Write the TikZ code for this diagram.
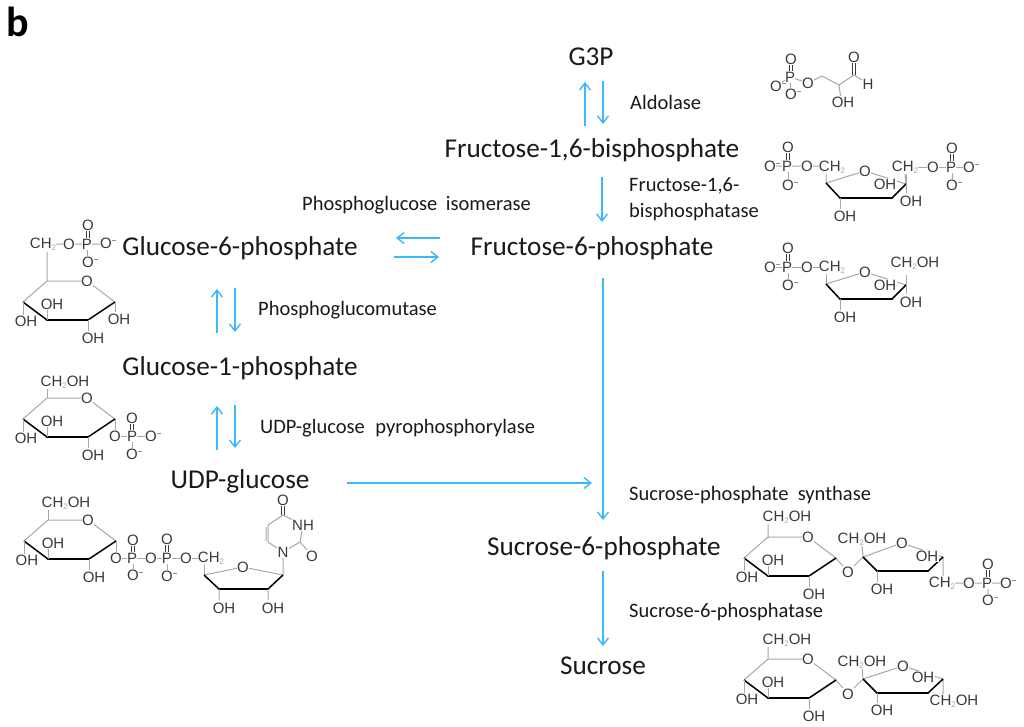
\documentclass[tikz,border=0pt]{standalone}
\usepackage{fontspec}
\setmainfont{Carlito}
\newfontfamily\chemfont{Liberation Sans}
\usetikzlibrary{calc,arrows.meta}
\definecolor{arrowblue}{HTML}{3DB8FA}
\definecolor{bondgray}{HTML}{A8A8A8}
\definecolor{inkdark}{HTML}{1A1A1A}
\definecolor{atomink}{HTML}{3A3A3A}
\tikzset{
  metab/.style={font=\fontsize{27.2}{27}\selectfont,text=inkdark,inner sep=0pt,text height=19.5pt,text depth=2.5pt},
  enzyme/.style={font=\fontsize{20.5}{26}\selectfont,text=inkdark,inner sep=0pt,align=left},
  flow/.style={draw=arrowblue,line width=1.4pt,-{Straight Barb[length=7pt,width=11pt,line width=1.4pt]}},
  bond/.style={draw=bondgray,line width=1pt},
  dbond/.style={draw=atomink,line width=1pt},
  wedge/.style={draw=black,line width=2.6pt,line cap=round},
  wedgeside/.style={draw=black,line width=1.5pt},
  atom/.style={font=\chemfont\fontsize{15}{15}\selectfont,text=atomink,inner sep=0.4pt,fill=white},
}
\newcommand{\subtwo}{\raisebox{-2pt}{\textcolor{bondgray}{\fontsize{8}{8}\selectfont 2}}}
\newcommand{\minussign}{\rlap{\raisebox{5pt}{\fontsize{8}{8}\selectfont\textminus}}}
\newcommand{\chemat}[3]{\node[atom] at (#1,#2) {#3};}
% pyranose ring: origin = C5
\newcommand{\pyranose}[2]{%
 \begin{scope}[shift={(#1,#2)}]
  \draw[bond] (0,0) -- (40,0) (40,0) -- (68,21) (0,0) -- (-24,21);
  \draw[wedgeside] (-24,21) -- (0,39);
  \draw[wedge] (0,39) -- (41,39);
  \draw[wedgeside] (41,39) -- (68,21);
  \draw[bond] (-24,21) -- (-24,35) (0,39) -- (0,28) (41,39) -- (41,50);
  \chemat{40}{0}{O}
  \chemat{5}{23}{OH}
  \chemat{-21}{40}{OH}
  \chemat{46}{57}{OH}
 \end{scope}}
% furanose ring: origin = left carbon
\newcommand{\furanose}[2]{%
 \begin{scope}[shift={(#1,#2)}]
  \draw[bond] (0,0) -- (39,-12) (39,-12) -- (80,1);
  \draw[wedgeside] (0,0) -- (14,15);
  \draw[wedge] (14,15) -- (66,15);
  \draw[wedgeside] (66,15) -- (80,1);
  \draw[bond] (14,15) -- (14,26) (80,1) -- (80,10) (80,1) -- (80,-9);
  \chemat{39}{-12}{O}
  \chemat{59}{1}{OH}
 \end{scope}}
\begin{document}
\begin{tikzpicture}[x=1pt,y=-1pt]
\useasboundingbox (0,0) rectangle (1024,726);
\fill[white] (0,0) rectangle (1024,726);
\node[font=\bfseries\fontsize{42}{42}\selectfont,inner sep=0pt,text=black] (panel) at (18,22) {b};

% metabolites
\node[metab] (g3p) at (591,57) {G3P};
\node[metab] (fbp) at (592,149) {Fructose-1,6-bisphosphate};
\node[metab] (f6p) at (592,247) {Fructose-6-phosphate};
\node[metab] (g6p) at (240,247) {Glucose-6-phosphate};
\node[metab] (g1p) at (240,367) {Glucose-1-phosphate};
\node[metab] (udp) at (240,480) {UDP-glucose};
\node[metab] (s6p) at (604,547) {Sucrose-6-phosphate};
\node[metab] (suc) at (603,666) {Sucrose};

% enzymes
\node[enzyme,anchor=west] (e1) at (630,102) {Aldolase};
\node[enzyme,anchor=west] (e2) at (629,199.5) {Fructose-1,6-\\bisphosphatase};
\node[enzyme,anchor=west] (e3) at (302,205.5) {Phosphoglucose\hspace{4pt} isomerase};
\node[enzyme,anchor=west] (e4) at (258,310) {Phosphoglucomutase};
\node[enzyme,anchor=west] (e5) at (260,428) {UDP-glucose\hspace{6pt} pyrophosphorylase};
\node[enzyme,anchor=west] (e6) at (629,495) {Sucrose-phosphate\ \ synthase};
\node[enzyme,anchor=west] (e7) at (629,612) {Sucrose-6-phosphatase};

% arrows
\draw[flow] ([shift={(-6,69)}]g3p.center) -- ([shift={(-6,25)}]g3p.center);
\draw[flow] ([shift={(12,24)}]g3p.center) -- ([shift={(12,67)}]g3p.center);
\draw[flow] ([shift={(10,28)}]fbp.center) -- ([shift={(10,73)}]fbp.center);
\draw[flow] ([shift={(-152,-9)}]f6p.center) -- ([shift={(-196,-9)}]f6p.center);
\draw[flow] ([shift={(154,10)}]g6p.center) -- ([shift={(199,10)}]g6p.center);
\draw[flow] ([shift={(-23,86)}]g6p.center) -- ([shift={(-23,42)}]g6p.center);
\draw[flow] ([shift={(-5,41)}]g6p.center) -- ([shift={(-5,85)}]g6p.center);
\draw[flow] ([shift={(-23,83)}]g1p.center) -- ([shift={(-23,39)}]g1p.center);
\draw[flow] ([shift={(-5,38)}]g1p.center) -- ([shift={(-5,81)}]g1p.center);
\draw[flow] ([shift={(107,3)}]udp.center) -- ([shift={(352,3)}]udp.center);
\draw[flow] ([shift={(11,31)}]f6p.center) -- ([shift={(11,273)}]f6p.center);
\draw[flow] ([shift={(-1,24)}]s6p.center) -- ([shift={(-1,99)}]s6p.center);

% G3P
\draw[bond] (790,77) -- (776,86) (790,77) -- (791,94) (790,77) -- (808,83) (808,83) -- (822,76) (822,76) -- (839,85) (839,85) -- (854,75) (854,75) -- (868,84) (839,85) -- (841,100);
\draw[dbond] (789,77) -- (789,59) (792,77) -- (792,59) (852.5,75) -- (852.5,57) (855.5,75) -- (855.5,57);
\chemat{791}{59}{O}\chemat{790}{77}{P}\chemat{776}{86}{O\minussign}\chemat{791}{94}{O\minussign}\chemat{808}{83}{O}\chemat{854}{57}{O}\chemat{868}{84}{H}\chemat{843}{102}{OH}

% Fructose-1,6-bisphosphate
\draw[bond] (770,166) -- (807,166) (807,166) -- (822,166) (826,172) -- (826,183) (905,174) -- (906,184);
\draw[dbond] (786.5,147) -- (786.5,166) (789.5,147) -- (789.5,166);
\draw[bond] (788,166) -- (788,185);
\draw[bond] (918,167) -- (969,167) (952,167) -- (952,185);
\draw[dbond] (950.5,148) -- (950.5,167) (953.5,148) -- (953.5,167);
\furanose{826}{183}
\chemat{788}{147}{O}\chemat{770}{166}{O\minussign}\chemat{787}{166}{P}\chemat{788}{185}{O\minussign}\chemat{807}{166}{O}\chemat{832}{167}{CH\subtwo}
\chemat{845}{216}{OH}\chemat{911}{201}{OH}\chemat{905}{167}{CH\subtwo}\chemat{933}{167}{O}\chemat{951}{167}{P}\chemat{952}{148}{O}\chemat{952}{185}{O\minussign}\chemat{969}{167}{O\minussign}

% Fructose-6-phosphate
\draw[bond] (770,267) -- (822,267) (788,267) -- (788,285) (826,273) -- (826,284);
\draw[dbond] (786.5,248) -- (786.5,267) (789.5,248) -- (789.5,267);
\furanose{826}{284}
\chemat{788}{248}{O}\chemat{770}{267}{O\minussign}\chemat{787}{267}{P}\chemat{788}{285}{O\minussign}\chemat{807}{267}{O}\chemat{832}{267}{CH\subtwo}
\chemat{845}{317}{OH}\chemat{911}{302}{OH}\chemat{915}{263}{CH\subtwo OH}

% Glucose-6-phosphate
\draw[bond] (47,252) -- (47,281) (56,244) -- (106,244) (87,244) -- (88,262);
\draw[dbond] (86.5,225) -- (86.5,244) (89.5,225) -- (89.5,244);
\pyranose{47}{281}
\draw[bond] (115,302) -- (115,312);
\chemat{119}{319}{OH}
\chemat{43}{244}{CH\subtwo}\chemat{69}{244}{O}\chemat{87}{244}{P}\chemat{88}{225}{O}\chemat{106}{243}{O\minussign}\chemat{88}{262}{O\minussign}

% Glucose-1-phosphate
\draw[bond] (47,389) -- (47,398) (115,419) -- (115,436) (115,436) -- (151,436) (132,436) -- (132,454);
\draw[dbond] (130.5,418) -- (130.5,436) (133.5,418) -- (133.5,436);
\pyranose{47}{398}
\chemat{65}{382}{CH\subtwo OH}\chemat{115}{436}{O}\chemat{132}{436}{P}\chemat{132}{418}{O}\chemat{151}{436}{O\minussign}\chemat{132}{454}{O\minussign}

% UDP-glucose
\draw[bond] (48,510) -- (48,520) (116,541) -- (116,558) (116,558) -- (204,558) (133,558) -- (133,575) (167,558) -- (167,576) (204,558) -- (204,575);
\draw[dbond] (131.5,540) -- (131.5,558) (134.5,540) -- (134.5,558) (165.5,539) -- (165.5,558) (168.5,539) -- (168.5,558);
\pyranose{48}{520}
\chemat{66}{503}{CH\subtwo OH}\chemat{116}{558}{O}\chemat{132}{558}{P}\chemat{133}{540}{O}\chemat{133}{575}{O\minussign}\chemat{151}{558}{O}\chemat{167}{558}{P}\chemat{167}{539}{O}\chemat{167}{576}{O\minussign}\chemat{186}{558}{O}\chemat{211}{558}{CH\subtwo}
\draw[bond] (204,575) -- (243,567) (243,567) -- (283,575);
\draw[wedgeside] (204,575) -- (219,589);
\draw[wedge] (219,589) -- (268,589);
\draw[wedgeside] (268,589) -- (283,575);
\draw[bond] (219,589) -- (219,600) (268,589) -- (268,600) (283,575) -- (283,552) (283,552) -- (268,542) (268,542) -- (268,525) (266,541) -- (266,527) (268,525) -- (283,515) (283,515) -- (303,525) (303,525) -- (300,542) (300,542) -- (283,552) (300,542) -- (312,556);
\draw[dbond] (281.5,515) -- (281.5,500) (284.5,515) -- (284.5,500);
\chemat{243}{567}{O}\chemat{224}{608}{OH}\chemat{273}{608}{OH}\chemat{283}{552}{N}\chemat{312}{556}{O}\chemat{303}{525}{NH}\chemat{283}{500}{O}

% Sucrose-6-phosphate
\draw[bond] (768,524) -- (768,538) (835,557) -- (848,572) (848,572) -- (863,557) (863,557) -- (862,546) (863,557) -- (902,543) (902,543) -- (943,557) (943,557) -- (943,576) (955,583) -- (1006,583) (988,583) -- (988,600);
\draw[dbond] (986.5,564) -- (986.5,583) (989.5,564) -- (989.5,583);
\pyranose{768}{537}
\draw[wedgeside] (863,557) -- (877,571);
\draw[wedge] (877,571) -- (928,571);
\draw[wedgeside] (928,571) -- (943,557);
\draw[bond] (877,571) -- (877,582);
\chemat{787}{517}{CH\subtwo OH}\chemat{848}{572}{O}\chemat{902}{543}{O}\chemat{862}{539}{CH\subtwo OH}\chemat{927}{556}{OH}\chemat{882}{589}{OH}\chemat{942}{583}{CH\subtwo}\chemat{969}{583}{O}\chemat{987}{583}{P}\chemat{988}{564}{O}\chemat{1006}{583}{O\minussign}\chemat{988}{600}{O\minussign}

% Sucrose
\draw[bond] (768,646) -- (768,659) (835,679) -- (848,694) (848,694) -- (863,679) (863,679) -- (862,668) (863,679) -- (903,666) (903,666) -- (943,679) (943,679) -- (943,695);
\pyranose{768}{659}
\draw[wedgeside] (863,679) -- (877,693);
\draw[wedge] (877,693) -- (928,693);
\draw[wedgeside] (928,693) -- (943,679);
\draw[bond] (877,693) -- (877,703);
\chemat{787}{640}{CH\subtwo OH}\chemat{848}{694}{O}\chemat{903}{666}{O}\chemat{862}{662}{CH\subtwo OH}\chemat{923}{677}{OH}\chemat{882}{710}{OH}\chemat{954}{701}{CH\subtwo OH}
\end{tikzpicture}
\end{document}
